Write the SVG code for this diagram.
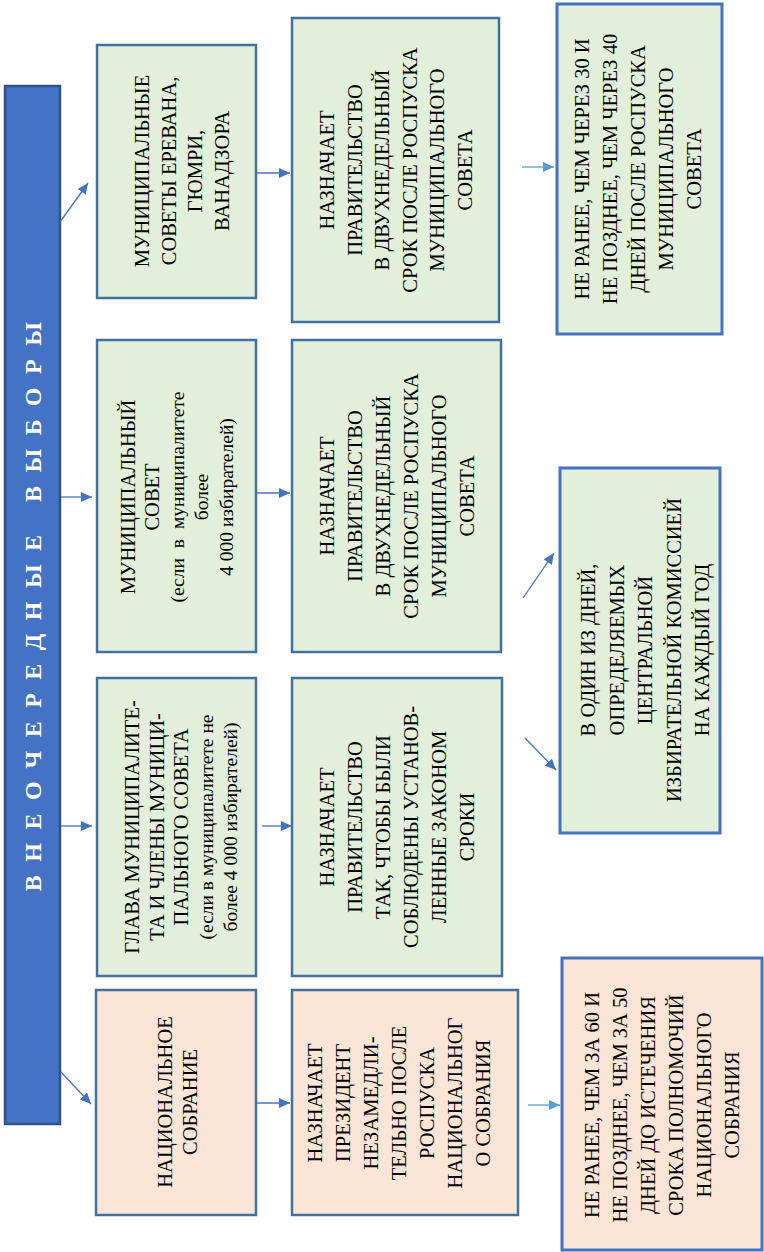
<svg xmlns="http://www.w3.org/2000/svg" width="764" height="1252" viewBox="0 0 764 1252">
<defs>
<marker id="ah" markerUnits="userSpaceOnUse" markerWidth="12" markerHeight="10" refX="11" refY="5" orient="auto">
<path d="M0,0 L11,5 L0,10 z" fill="#4472C4"/>
</marker>
<marker id="ahl" markerUnits="userSpaceOnUse" markerWidth="12" markerHeight="10" refX="11" refY="5" orient="auto">
<path d="M0,0 L11,5 L0,10 z" fill="#5B9BD5"/>
</marker>
</defs>
<style>
text{font-family:"Liberation Serif","Times New Roman",Tinos,"DejaVu Serif",serif}
.g{fill:#E2EFDA;stroke:#41719C;stroke-width:2.5}
.g2{fill:#E2EFDA;stroke:#4472C4;stroke-width:3}
.p{fill:#FBE5D6;stroke:#41719C;stroke-width:2.5}
.p2{fill:#FBE5D6;stroke:#4472C4;stroke-width:3}
.t{font-size:20.5px;fill:#000;text-anchor:middle;dominant-baseline:central}
.s{font-size:19.5px}
.h{font-weight:bold;font-size:24px;letter-spacing:13.5px;fill:#fff;text-anchor:middle;dominant-baseline:central}
.c{fill:none;stroke:#4472C4;stroke-width:1.3;marker-end:url(#ah)}
.cl{fill:none;stroke:#5B9BD5;stroke-width:1.3;marker-end:url(#ahl)}
</style>
<rect width="764" height="1252" fill="#fff"/>

<g id="title">
<rect x="5" y="86" width="55" height="1038" fill="#4472C4" stroke="#2F528F" stroke-width="2.5"/>
<text class="h" transform="translate(33,600) rotate(-90)">ВНЕОЧЕРЕДНЫЕ ВЫБОРЫ</text>
</g>

<g id="connectors">
<line class="c" x1="60" y1="222" x2="88" y2="183"/>
<line class="c" x1="61" y1="497" x2="92" y2="497"/>
<line class="c" x1="61" y1="826" x2="92" y2="826"/>
<line class="c" x1="61" y1="1072" x2="91" y2="1104"/>
<line class="c" x1="257" y1="173" x2="290" y2="173"/>
<line class="c" x1="257" y1="493" x2="290" y2="493"/>
<line class="c" x1="262" y1="826" x2="292" y2="826"/>
<line class="c" x1="257" y1="1103" x2="290" y2="1103"/>
<line class="cl" x1="522" y1="167" x2="554" y2="167"/>
<line class="c" x1="523" y1="598" x2="554" y2="553"/>
<line class="c" x1="525" y1="738" x2="556" y2="770"/>
<line class="cl" x1="528" y1="1105" x2="560" y2="1105"/>
</g>

<g id="nodeA">
<rect class="g" x="97" y="45" width="159" height="253"/>
<text class="t" transform="translate(142,171) rotate(-90)"><tspan x="0">МУНИЦИПАЛЬНЫЕ</tspan><tspan x="0" dy="26.7">СОВЕТЫ ЕРЕВАНА,</tspan><tspan x="0" dy="26.7">ГЮМРИ,</tspan><tspan x="0" dy="26.7">ВАНАДЗОРА</tspan></text>
</g>

<g id="nodeB">
<rect class="g" x="97" y="340" width="159" height="312"/>
<text class="t" transform="translate(128,497) rotate(-90)"><tspan x="0">МУНИЦИПАЛЬНЫЙ</tspan><tspan x="0" dy="24">СОВЕТ</tspan><tspan x="0" dy="25" class="s" word-spacing="5">(если в муниципалитете</tspan><tspan x="0" dy="24" class="s">более</tspan><tspan x="0" dy="25" class="s">4 000 избирателей)</tspan></text>
</g>

<g id="nodeC">
<rect class="g" x="97" y="678" width="159" height="298"/>
<text class="t" transform="translate(132,827) rotate(-90)"><tspan x="0">ГЛАВА МУНИЦИПАЛИТЕ-</tspan><tspan x="0" dy="24.5">ТА И ЧЛЕНЫ МУНИЦИ-</tspan><tspan x="0" dy="24.5">ПАЛЬНОГО СОВЕТА</tspan><tspan x="0" dy="24.5" class="s">(если в муниципалитете не</tspan><tspan x="0" dy="24.5" class="s">более 4 000 избирателей)</tspan></text>
</g>

<g id="nodeD">
<rect class="p" x="96" y="990" width="160" height="225"/>
<text class="t" transform="translate(165,1102) rotate(-90)"><tspan x="0">НАЦИОНАЛЬНОЕ</tspan><tspan x="0" dy="25">СОБРАНИЕ</tspan></text>
</g>

<g id="nodeE">
<rect class="g" x="292" y="18" width="207" height="304"/>
<text class="t" transform="translate(327,170) rotate(-90)"><tspan x="0">НАЗНАЧАЕТ</tspan><tspan x="0" dy="27.6">ПРАВИТЕЛЬСТВО</tspan><tspan x="0" dy="27.6">В ДВУХНЕДЕЛЬНЫЙ</tspan><tspan x="0" dy="27.6">СРОК ПОСЛЕ РОСПУСКА</tspan><tspan x="0" dy="27.6">МУНИЦИПАЛЬНОГО</tspan><tspan x="0" dy="27.6">СОВЕТА</tspan></text>
</g>

<g id="nodeF">
<rect class="g" x="292" y="340" width="209" height="312"/>
<text class="t" transform="translate(327,496) rotate(-90)"><tspan x="0">НАЗНАЧАЕТ</tspan><tspan x="0" dy="28">ПРАВИТЕЛЬСТВО</tspan><tspan x="0" dy="28">В ДВУХНЕДЕЛЬНЫЙ</tspan><tspan x="0" dy="28">СРОК ПОСЛЕ РОСПУСКА</tspan><tspan x="0" dy="28">МУНИЦИПАЛЬНОГО</tspan><tspan x="0" dy="28">СОВЕТА</tspan></text>
</g>

<g id="nodeG">
<rect class="g" x="292" y="678" width="210" height="298"/>
<text class="t" transform="translate(327,827) rotate(-90)"><tspan x="0">НАЗНАЧАЕТ</tspan><tspan x="0" dy="28">ПРАВИТЕЛЬСТВО</tspan><tspan x="0" dy="28">ТАК, ЧТОБЫ БЫЛИ</tspan><tspan x="0" dy="28">СОБЛЮДЕНЫ УСТАНОВ-</tspan><tspan x="0" dy="28">ЛЕННЫЕ ЗАКОНОМ</tspan><tspan x="0" dy="28">СРОКИ</tspan></text>
</g>

<g id="nodeH">
<rect class="p" x="292" y="990" width="226" height="225"/>
<text class="t" transform="translate(315,1103) rotate(-90)"><tspan x="0">НАЗНАЧАЕТ</tspan><tspan x="0" dy="28">ПРЕЗИДЕНТ</tspan><tspan x="0" dy="28">НЕЗАМЕДЛИ-</tspan><tspan x="0" dy="28">ТЕЛЬНО ПОСЛЕ</tspan><tspan x="0" dy="28">РОСПУСКА</tspan><tspan x="0" dy="28">НАЦИОНАЛЬНОГ</tspan><tspan x="0" dy="28">О СОБРАНИЯ</tspan></text>
</g>

<g id="nodeI">
<rect class="g2" x="557" y="4" width="165" height="330"/>
<text class="t" transform="translate(582,169) rotate(-90)"><tspan x="0">НЕ РАНЕЕ, ЧЕМ ЧЕРЕЗ 30 И</tspan><tspan x="0" dy="28">НЕ ПОЗДНЕЕ, ЧЕМ ЧЕРЕЗ 40</tspan><tspan x="0" dy="28">ДНЕЙ ПОСЛЕ РОСПУСКА</tspan><tspan x="0" dy="28">МУНИЦИПАЛЬНОГО</tspan><tspan x="0" dy="28">СОВЕТА</tspan></text>
</g>

<g id="nodeJ">
<rect class="g2" x="560" y="468" width="160" height="365"/>
<text class="t" transform="translate(588,650) rotate(-90)"><tspan x="0">В ОДИН ИЗ ДНЕЙ,</tspan><tspan x="0" dy="28.5">ОПРЕДЕЛЯЕМЫХ</tspan><tspan x="0" dy="28.5">ЦЕНТРАЛЬНОЙ</tspan><tspan x="0" dy="28.5">ИЗБИРАТЕЛЬНОЙ КОМИССИЕЙ</tspan><tspan x="0" dy="28.5">НА КАЖДЫЙ ГОД</tspan></text>
</g>

<g id="nodeK">
<rect class="p2" x="562" y="958" width="200" height="292"/>
<text class="t" transform="translate(592,1105) rotate(-90)"><tspan x="0">НЕ РАНЕЕ, ЧЕМ ЗА 60 И</tspan><tspan x="0" dy="28">НЕ ПОЗДНЕЕ, ЧЕМ ЗА 50</tspan><tspan x="0" dy="28">ДНЕЙ ДО ИСТЕЧЕНИЯ</tspan><tspan x="0" dy="28">СРОКА ПОЛНОМОЧИЙ</tspan><tspan x="0" dy="28">НАЦИОНАЛЬНОГО</tspan><tspan x="0" dy="28">СОБРАНИЯ</tspan></text>
</g>
</svg>
